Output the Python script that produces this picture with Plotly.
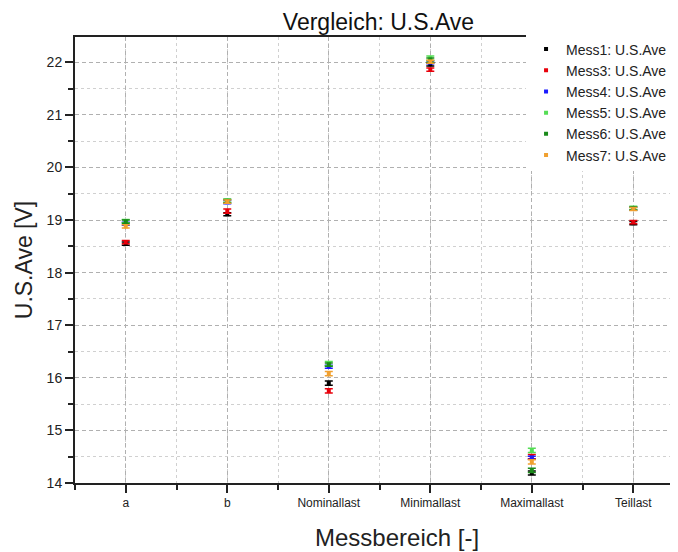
import plotly.graph_objects as go

categories = ["a", "b", "Nominallast", "Minimallast", "Maximallast", "Teillast"]
series_names = ["Mess1: U.S.Ave", "Mess3: U.S.Ave", "Mess4: U.S.Ave",
                "Mess5: U.S.Ave", "Mess6: U.S.Ave", "Mess7: U.S.Ave"]
colors = ["#000000", "#e8000b", "#1a1aff", "#55dd55", "#1a8a1a", "#f0a030"]

mess1 = [18.55, 19.11, 15.90, 21.96, 14.19, 18.94]
mess3 = [18.58, 19.17, 15.75, 21.86, 14.50, 18.96]
mess4 = [18.93, 19.34, 16.21, 22.00, 14.48, 19.22]
mess5 = [18.98, 19.37, 16.27, 22.08, 14.62, 19.23]
mess6 = [18.97, 19.36, 16.25, 22.04, 14.24, 19.22]
mess7 = [18.88, 19.35, 16.08, 22.01, 14.40, 19.21]

err1 = [0.03, 0.03, 0.04, 0.03, 0.04, 0.03]
err3 = [0.03, 0.04, 0.04, 0.03, 0.04, 0.03]
err4 = [0.03, 0.03, 0.03, 0.03, 0.03, 0.03]
err5 = [0.03, 0.03, 0.04, 0.04, 0.04, 0.03]
err6 = [0.03, 0.03, 0.03, 0.04, 0.04, 0.03]
err7 = [0.03, 0.03, 0.04, 0.03, 0.04, 0.03]

values = [mess1, mess3, mess4, mess5, mess6, mess7]
errors = [err1, err3, err4, err5, err6, err7]
xpos = list(range(len(categories)))

fig = go.Figure()
for name, col, vals, errs in zip(series_names, colors, values, errors):
    fig.add_trace(go.Scatter(
        x=xpos, y=vals, mode="markers", name=name,
        marker=dict(color=col, size=4, symbol="square"),
        error_y=dict(type="data", array=errs, visible=True, color=col,
                     thickness=1.5, width=4),
    ))

font = "Arial, Liberation Sans, sans-serif"
fig.update_layout(
    width=670, height=544,
    margin=dict(l=67, r=0, t=29, b=69, autoexpand=False),
    paper_bgcolor="white", plot_bgcolor="white",
    font=dict(family=font, color="#222"),
    title=dict(text="Vergleich: U.S.Ave", x=(67 + 603 / 2 + 2) / 670, xanchor="center",
               y=1 - 14 / 544, yanchor="middle", font=dict(size=23, color="#111")),
    showlegend=True,
    legend=dict(x=0.748, y=1.008, xanchor="left", yanchor="top",
                bgcolor="white", borderwidth=0, font=dict(size=14, color="#222"),
                tracegroupgap=0, itemwidth=30),
    annotations=[dict(text="Messbereich [-]", xref="paper", yref="paper",
                      x=(397 - 8 - 67) / 603, y=-(537 - 483) / 446,
                      xanchor="center", yanchor="middle", showarrow=False,
                      font=dict(size=24, color="#222"))],
)
fig.update_xaxes(
    range=[-0.5, 5.44], tickmode="array", tickvals=xpos, ticktext=categories,
    automargin=False,
    showline=True, linecolor="#222", linewidth=2, mirror=True,
    ticks="outside", ticklen=8, tickwidth=2, tickcolor="#222",
    tickfont=dict(size=12), zeroline=False,
    showgrid=True, gridcolor="#b0b0b0", griddash="4px,3px", gridwidth=1,
    minor=dict(dtick=0.5, tick0=0, ticks="outside", ticklen=5, tickwidth=2,
               tickcolor="#222", showgrid=True, gridcolor="#d0d0d0",
               griddash="dot", gridwidth=1),
)
fig.update_yaxes(
    range=[14, 22.48], dtick=1, tick0=14,
    automargin=False,
    showline=True, linecolor="#222", linewidth=2, mirror=False,
    ticks="outside", ticklen=8, tickwidth=2, tickcolor="#222",
    tickfont=dict(size=14), zeroline=False,
    showgrid=True, gridcolor="#b0b0b0", griddash="4px,3px", gridwidth=1,
    minor=dict(dtick=0.5, tick0=14, ticks="outside", ticklen=5, tickwidth=2,
               tickcolor="#222", showgrid=True, gridcolor="#d0d0d0",
               griddash="dot", gridwidth=1),
    title=dict(text="U.S.Ave [V]", font=dict(size=23, color="#222"), standoff=8),
)

fig.write_html("out.html")
